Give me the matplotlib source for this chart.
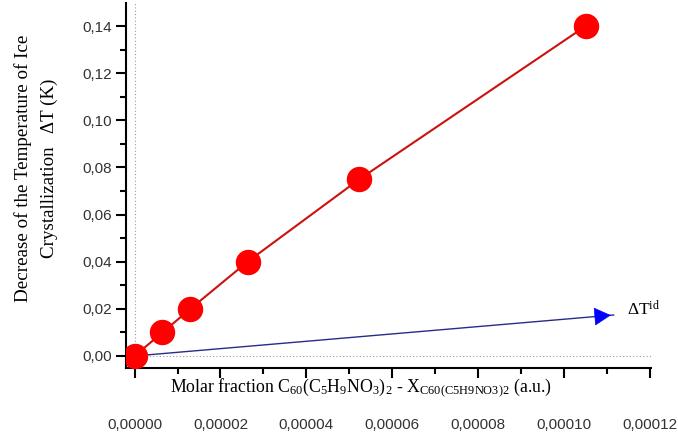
import numpy as np
import matplotlib
matplotlib.use('Agg')
import matplotlib.pyplot as plt
from matplotlib.ticker import MultipleLocator, FuncFormatter

plt.rcParams['mathtext.default'] = 'regular'

# measured points
x_frac = [0.0, 6.5e-6, 1.3e-5, 2.63e-5, 5.23e-5, 1.05e-4]
dT = [0.0, 0.010, 0.020, 0.040, 0.075, 0.140]

# ideal line (arrow)
x_id = [0.0, 1.115e-4]
y_id = [0.0, 0.0174]

serif = 'Liberation Serif'
sans = 'Liberation Sans'

fig = plt.figure(figsize=(6.78, 4.38), dpi=100)
ax = fig.add_axes([0.1858, 0.1598, 0.9602 - 0.1858, 0.9932 - 0.1598])

ax.set_xlim(-2e-6, 1.202e-4)
ax.set_ylim(-0.0051, 0.1498)

# dotted zero lines
ax.axvline(0, color='#9a9a9a', linestyle=(0, (1, 2)), linewidth=0.8, zorder=1)
ax.axhline(0, color='#9a9a9a', linestyle=(0, (1, 2)), linewidth=0.8, zorder=1)

ax.plot(x_frac, dT, color='#cc1111', linewidth=1.5, zorder=3)
ax.plot(x_frac, dT, linestyle='none', marker='o', markersize=17.3,
        markerfacecolor='#ff0000', markeredgecolor='#ff0000', zorder=4)

# ideal line with arrow head
ax.plot(x_id, y_id, color='#2a2a8a', linewidth=1.0, zorder=2)
ax.annotate('', xy=(x_id[1], y_id[1]), xytext=(x_id[1] - 4e-6, y_id[1] - 0.0006),
            arrowprops=dict(arrowstyle='-|>,head_length=1.1,head_width=0.6',
                            color='#0000ff', lw=0.5), zorder=5)
ax.text(x_id[1] + 3.2e-6, y_id[1] + 0.002, r'$\Delta$T$^{id}$', fontsize=12.5,
        family=serif, va='center', ha='left', clip_on=False)

for s in ['top', 'right']:
    ax.spines[s].set_visible(False)
for s in ['left', 'bottom']:
    ax.spines[s].set_linewidth(1.5)

ax.xaxis.set_major_locator(MultipleLocator(2e-5))
ax.xaxis.set_minor_locator(MultipleLocator(1e-5))
ax.yaxis.set_major_locator(MultipleLocator(0.02))
ax.yaxis.set_minor_locator(MultipleLocator(0.01))
ax.xaxis.set_major_formatter(FuncFormatter(lambda v, p: f'{v:.5f}'.replace('.', ',')))
ax.yaxis.set_major_formatter(FuncFormatter(lambda v, p: f'{v:.2f}'.replace('.', ',')))

ax.tick_params(axis='both', which='major', length=7, width=1.5, direction='out',
               labelsize=11, labelcolor='#333333')
ax.tick_params(axis='both', which='minor', length=4, width=1.5, direction='out')
ax.tick_params(axis='x', which='major', pad=29)
ax.tick_params(axis='y', which='major', pad=3)
for lab in ax.get_xticklabels() + ax.get_yticklabels():
    lab.set_family(sans)

ax.text(0.084, -0.055,
        r'Molar fraction C$_{60}$(C$_5$H$_9$NO$_3$)$_2$ - X$_{C60(C5H9NO3)2}$ (a.u.)',
        transform=ax.transAxes, ha='left', va='center', fontsize=12.8, family=serif)

fig.text(36 / 678, 1 - 168 / 438,
         'Decrease of the Temperature of Ice\nCrystallization   \u0394T (K)',
         rotation=90, ha='center', va='center', multialignment='center',
         fontsize=13.7, family=serif, linespacing=1.65)

fig.savefig('out.png', dpi=100)
